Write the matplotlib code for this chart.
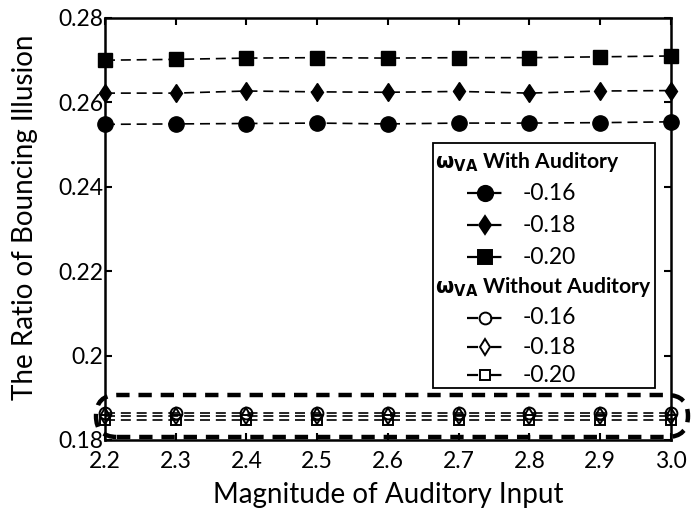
import numpy as np
import matplotlib
matplotlib.use('Agg')
import matplotlib.pyplot as plt
from matplotlib.lines import Line2D
from matplotlib.patches import Rectangle, FancyBboxPatch

plt.rcParams['font.family'] = ['Lato', 'DejaVu Sans']
plt.rcParams['mathtext.fontset'] = 'dejavusans'

magnitude = [2.2, 2.3, 2.4, 2.5, 2.6, 2.7, 2.8, 2.9, 3.0]

# with auditory input
with_016 = [0.2548, 0.2549, 0.2550, 0.2551, 0.2549, 0.2551, 0.2551, 0.2552, 0.2554]
with_018 = [0.2622, 0.2622, 0.2627, 0.2625, 0.2624, 0.2626, 0.2622, 0.2627, 0.2628]
with_020 = [0.2700, 0.2702, 0.2705, 0.2706, 0.2705, 0.2706, 0.2706, 0.2708, 0.2710]

# without auditory input
without_016 = [0.1864] * 9
without_018 = [0.1857] * 9
without_020 = [0.1847] * 9

weights = ['-0.16', '-0.18', '-0.20']
xtick_labels = ['2.2', '2.3', '2.4', '2.5', '2.6', '2.7', '2.8', '2.9', '3.0']
yticks = [0.18, 0.20, 0.22, 0.24, 0.26, 0.28]
ytick_labels = ['0.18', '0.2', '0.22', '0.24', '0.26', '0.28']

W, H = 699, 508
fig = plt.figure(figsize=(W / 100, H / 100), dpi=100)
ax = fig.add_axes([105 / W, 68 / H, 566 / W, 422 / H])

dash = (6, 3.5)
filled = [(with_016, 'o', 11), (with_018, 'd', 9.5), (with_020, 's', 10)]
hollow = [(without_016, 'o', 8.5), (without_018, 'd', 8.5), (without_020, 's', 7.5)]

for ys, m, ms in filled:
    ax.plot(magnitude, ys, color='black', lw=1.2, dashes=dash, marker=m, ms=ms,
            mfc='black', mec='black', clip_on=False, zorder=3)
for ys, m, ms in hollow:
    ax.plot(magnitude, ys, color='black', lw=1.2, dashes=dash, marker=m, ms=ms,
            mfc='none', mec='black', mew=1.4, clip_on=False, zorder=3)

ax.set_xlim(2.2, 3.0)
ax.set_ylim(0.18, 0.28)
ax.set_xticks(magnitude)
ax.set_xticklabels(xtick_labels)
ax.set_yticks(yticks)
ax.set_yticklabels(ytick_labels)
ax.tick_params(direction='in', length=5, width=1.5, top=True, right=True,
               labelsize=16.5)
ax.tick_params(axis='y', pad=1)
ax.tick_params(axis='x', pad=8)
for s in ax.spines.values():
    s.set_linewidth(1.8)

ax.set_xlabel('Magnitude of Auditory Input', fontsize=20, labelpad=7)
ax.set_ylabel('The Ratio of Bouncing Illusion', fontsize=20)
ax.yaxis.set_label_coords(-0.118, 0.528)


def fx(px):
    return px / W


def fy(py):
    return 1 - py / H


# dashed outline around the curves without auditory input
fig.patches.append(FancyBboxPatch((fx(96), fy(437)), fx(688) - fx(96), fy(395) - fy(437),
                                  boxstyle='round,pad=0,rounding_size=0.03',
                                  mutation_aspect=W / H,
                                  transform=fig.transFigure, fill=False,
                                  ec='black', lw=3.2, ls=(0, (3, 2)), zorder=5))

# legend box
fig.patches.append(Rectangle((fx(433), fy(388)), fx(655) - fx(433), fy(143) - fy(388),
                             transform=fig.transFigure, fill=False, ec='black',
                             lw=1.3, zorder=6))
fig.patches.append(Rectangle((fx(433), fy(388)), fx(655) - fx(433), fy(143) - fy(388),
                             transform=fig.transFigure, fill=True, ec='none',
                             fc='white', zorder=4))

title_rows = [(162, 'With Auditory'), (287, 'Without Auditory')]
for py, t in title_rows:
    fig.text(fx(435), fy(py), r'$\mathbf{\omega}_{\mathbf{VA}}$ ' + t,
             fontsize=15.2, fontweight='bold', va='center', ha='left', zorder=7)

entry_rows = [193, 225, 257, 318, 347, 375]
entry_styles = filled + hollow
for i, py in enumerate(entry_rows):
    ys, m, ms = entry_styles[i]
    face = 'black' if i < 3 else 'none'
    ln = Line2D([fx(467), fx(503)], [fy(py), fy(py)], transform=fig.transFigure,
                color='black', lw=1.6, dashes=(5, 5.5), zorder=7)
    mk = Line2D([fx(485)], [fy(py)], transform=fig.transFigure, ls='none',
                marker=m, ms=ms, mfc=face, mec='black', mew=1.4, zorder=8)
    fig.lines.extend([ln, mk])
    fig.text(fx(523), fy(py), weights[i % 3], fontsize=16.5, va='center', ha='left',
             zorder=7)

fig.savefig('out.png', dpi=100)
